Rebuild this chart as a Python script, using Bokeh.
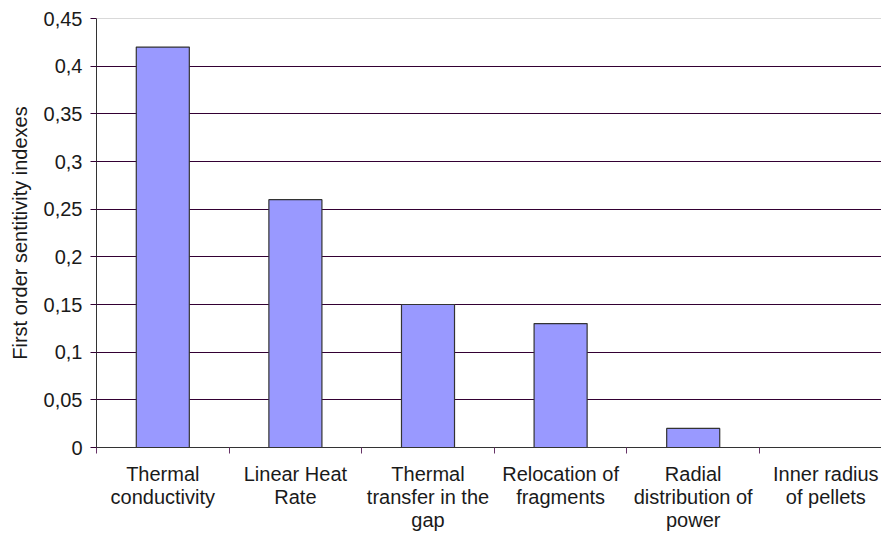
from bokeh.plotting import figure
from bokeh.models import FixedTicker, Span, ColumnDataSource
from bokeh.embed import file_html
from bokeh.resources import INLINE

categories = ["Thermal\nconductivity", "Linear Heat\nRate", "Thermal\ntransfer in the\ngap",
              "Relocation of\nfragments", "Radial\ndistribution of\npower", "Inner radius\nof pellets"]
values = [0.42, 0.26, 0.15, 0.13, 0.02, 0.0]
y_ticks = [0, 0.05, 0.1, 0.15, 0.2, 0.25, 0.3, 0.35, 0.4, 0.45]
y_tick_labels = ["0", "0,05", "0,1", "0,15", "0,2", "0,25", "0,3", "0,35", "0,4", "0,45"]

centers = [i + 0.5 for i in range(len(categories))]
bounds = [float(i) for i in range(len(categories) + 1)]

p = figure(width=881, height=533, output_backend="svg", toolbar_location=None,
           x_range=(0, 5.92), y_range=(0, 0.45),
           min_border_left=96, min_border_top=18, min_border_bottom=84, min_border_right=0)
p.outline_line_color = None
p.background_fill_color = "white"

src = ColumnDataSource(dict(x=centers, top=values))
p.vbar(x="x", top="top", width=0.4, bottom=0, source=src,
       fill_color="#9999ff", line_color="#333333", line_width=1.2)

FONT = "Liberation Sans"
TXT = "#1a1a1a"

# x axis
p.xaxis.ticker = FixedTicker(ticks=centers, minor_ticks=bounds)
p.xaxis.major_label_overrides = {c: lab for c, lab in zip(centers, categories)}
p.xaxis.major_tick_out = 0
p.xaxis.major_tick_in = 0
p.xaxis.minor_tick_out = 6
p.xaxis.minor_tick_in = 0
p.xaxis.minor_tick_line_color = "#663366"
p.xaxis.axis_line_color = "#333333"
p.xaxis.major_label_text_font = FONT
p.xaxis.major_label_text_font_size = "20px"
p.xaxis.major_label_text_color = TXT
p.xaxis.major_label_standoff = 9
p.xaxis.major_label_text_line_height = 1.05

# y axis
p.yaxis.ticker = FixedTicker(ticks=y_ticks, minor_ticks=[])
p.yaxis.major_label_overrides = {t: lab for t, lab in zip(y_ticks, y_tick_labels)}
p.yaxis.major_tick_out = 6
p.yaxis.major_tick_in = 0
p.yaxis.major_tick_line_color = "#330033"
p.yaxis.axis_line_color = "#333333"
p.yaxis.major_label_text_font = FONT
p.yaxis.major_label_text_font_size = "20px"
p.yaxis.major_label_text_color = TXT
p.yaxis.major_label_standoff = 8
p.yaxis.axis_label = "First order sentitivity indexes"
p.yaxis.axis_label_text_font = FONT
p.yaxis.axis_label_text_font_size = "20px"
p.yaxis.axis_label_text_font_style = "normal"
p.yaxis.axis_label_text_color = TXT
p.yaxis.axis_label_standoff = 10

# grid
p.xgrid.grid_line_color = None
p.ygrid.ticker = FixedTicker(ticks=y_ticks[:-1])
p.ygrid.grid_line_color = "#330033"
p.ygrid.grid_line_width = 1.2
p.ygrid.level = "underlay"
p.add_layout(Span(location=0.45, dimension="width", line_color="#b3b3b3", line_width=1))

open("out.html", "w").write(file_html(p, INLINE))
